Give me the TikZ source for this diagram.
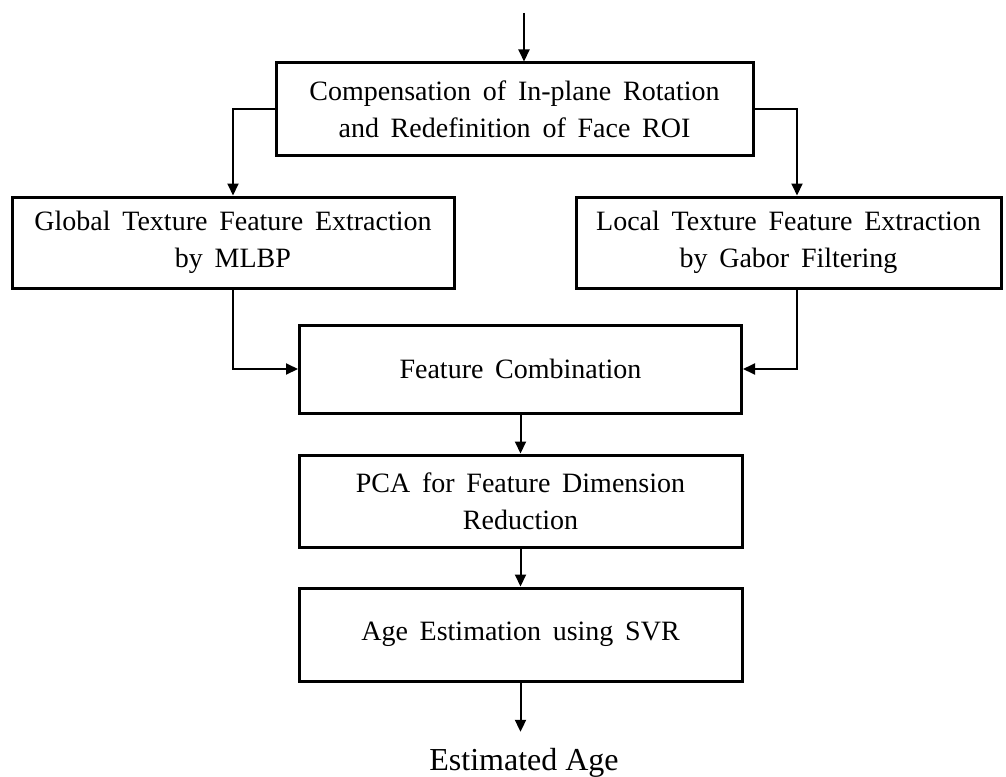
\documentclass[tikz,border=0pt]{standalone}
\usepackage{fontspec}
\setmainfont{Liberation Serif}
\usetikzlibrary{arrows.meta}
\newcommand{\blkfont}{\fontsize{28}{37}\selectfont\spaceskip=0.42em plus 0.1em\relax}
\tikzset{every picture/.style={line width=2pt}}
\tikzset{blk/.style={draw, line width=3pt, inner sep=0pt, align=center, font=\blkfont}}
\tikzset{arr/.style={-{Triangle[length=12pt, width=11pt]}}}

\begin{document}
\begin{tikzpicture}[x=1pt, y=-1pt]
    	\useasboundingbox (0, 0) rectangle (1006, 776);
    	\node[blk, minimum width=477pt, minimum height=92pt](B1) at (514.5, 109){Compensation of In-plane Rotation\\and Redefinition of Face ROI};
    	\node[blk, minimum width=442pt, minimum height=91pt](B2) at (233, 242.5){Global Texture Feature Extraction\\by MLBP};
    	\node[blk, minimum width=425pt, minimum height=91pt](B3) at (788.5, 242.5){Local Texture Feature Extraction\\by Gabor Filtering};
    	\node[blk, minimum width=442pt, minimum height=88pt](B4) at (520.5, 369){Feature Combination};
    	\node[blk, minimum width=443pt, minimum height=92pt](B5) at (520.5, 501){PCA for Feature Dimension\\Reduction};
    	\node[blk, minimum width=443pt, minimum height=93pt](B6) at (520.5, 634.5){Age Estimation using SVR};
    	\node[anchor=base, inner sep=0pt, font=\fontsize{32}{38}\selectfont](T1) at (524, 770){Estimated Age};
    	\coordinate (C1) at (524, 13);
    	\draw[arr] (C1) -- (C1 |- B1.north);
    	\draw[arr] (B1.west) -| (B2.north);
    	\draw[arr] (B1.east) -| ([xshift=8.5pt]B3.north);
    	\draw[arr] (B2.south) |- (B4.west);
    	\draw[arr] ([xshift=8.5pt]B3.south) |- (B4.east);
    	\draw[arr] (B4.south) -- (B5.north);
    	\draw[arr] (B5.south) -- (B6.north);
    	\draw[arr, shorten >=15pt] (B6.south) -- (B6.south |- T1.north);
    \end{tikzpicture}
\end{document}
